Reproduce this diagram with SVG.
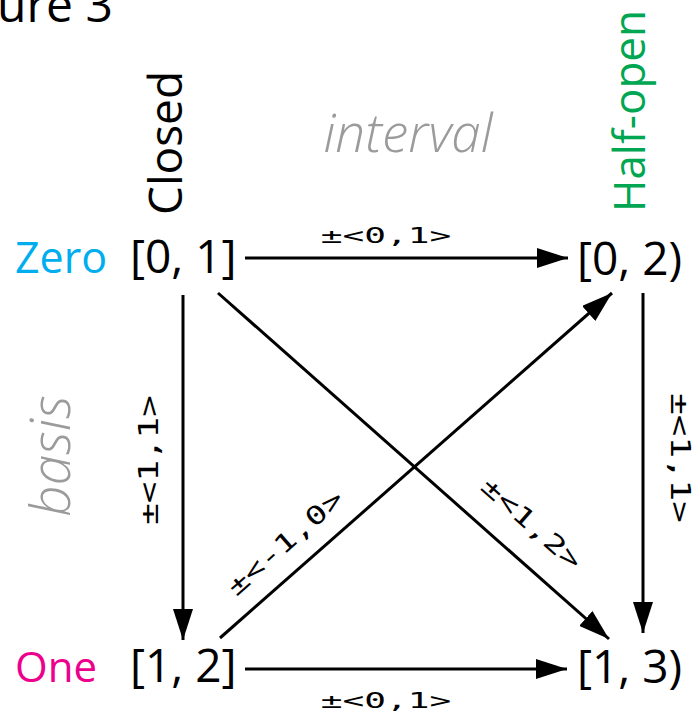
<svg xmlns="http://www.w3.org/2000/svg" width="697" height="723" viewBox="0 0 697 723">
<style>
.node{font-family:"Open Sans","Noto Sans",sans-serif;font-size:46px;fill:#000}
.head{font-family:"Open Sans","Noto Sans",sans-serif}
.axis{font-family:"Open Sans","Noto Sans",sans-serif;font-style:italic;font-weight:300;fill:#9b9b9b}
.lbl{font-family:"DejaVu Sans Mono","Liberation Mono",monospace;fill:#000;text-anchor:middle}
.edge{stroke:#000;stroke-width:3;fill:none;marker-end:url(#arr)}
</style>
<defs>
<marker id="arr" markerUnits="userSpaceOnUse" markerWidth="32" markerHeight="20" refX="31" refY="10" orient="auto">
<path d="M0,0 L31,10 L0,20 Z" fill="#000"/>
</marker>
</defs>
<rect width="697" height="723" fill="#fff"/>
<text class="head" font-size="48" fill="#000" x="-3" y="22">ure 3</text>
<g id="headers">
<text class="head" font-size="43" fill="#00aeef" x="15" y="273">Zero</text>
<text class="head" font-size="42" fill="#ec008c" x="15" y="682">One</text>
<text class="head" font-size="46" fill="#000" transform="translate(182,143) rotate(-90)" text-anchor="middle">Closed</text>
<text class="head" font-size="44" fill="#00a651" transform="translate(645,111) rotate(-90)" text-anchor="middle">Half-open</text>
<text class="axis" font-size="53" x="408" y="152" text-anchor="middle">interval</text>
<text class="axis" font-size="55" transform="translate(70,456) rotate(-90)" text-anchor="middle">basis</text>
</g>
<g id="connectors">
<line class="edge" x1="245" y1="258" x2="568" y2="258"/>
<line class="edge" x1="245" y1="669" x2="567" y2="669"/>
<line class="edge" x1="183" y1="295" x2="183" y2="640"/>
<line class="edge" x1="643" y1="293" x2="643" y2="633"/>
<line class="edge" x1="218" y1="293" x2="609" y2="639"/>
<line class="edge" x1="220" y1="638" x2="612" y2="293"/>
<text class="lbl" font-size="21" transform="translate(386,243) scale(1.72,1)">±&lt;0,1&gt;</text>
<text class="lbl" font-size="21" transform="translate(386,708) scale(1.72,1)">±&lt;0,1&gt;</text>
<text class="lbl" font-size="27" transform="translate(158,460) rotate(-90) scale(1.33,1)">±&lt;1,1&gt;</text>
<text class="lbl" font-size="27" transform="translate(671,458) rotate(90) scale(1.33,1)">±&lt;1,1&gt;</text>
<text class="lbl" font-size="25" transform="translate(291,549) rotate(-41.4) scale(1.38,1)">±&lt;-1,0&gt;</text>
<text class="lbl" font-size="25" transform="translate(526,530) rotate(41.5) scale(1.38,1)">±&lt;1,2&gt;</text>
</g>
<g id="node-01"><text class="node" x="130" y="273">[0, 1]</text></g>
<g id="node-02"><text class="node" x="577" y="275">[0, 2)</text></g>
<g id="node-12"><text class="node" x="130" y="682">[1, 2]</text></g>
<g id="node-13"><text class="node" x="577" y="683">[1, 3)</text></g>
</svg>
